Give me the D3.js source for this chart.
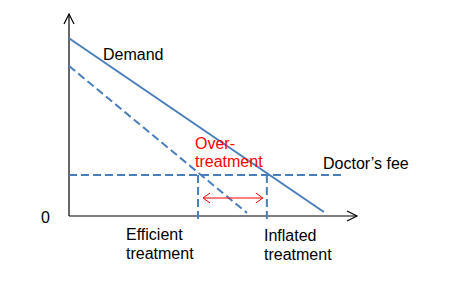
<!DOCTYPE html>
<html lang="en">
<head>
    <meta charset="UTF-8">
    <script src="https://d3js.org/d3.v7.min.js"></script>
    <style>
        body { margin: 0; background: #fff; }
        text {
            font-family: "Liberation Sans", Arial, sans-serif;
            font-size: 16px;
            fill: #000;
        }
        .red { fill: #ff0000; }
    </style>
</head>
<body>
    <svg id="chart"></svg>
    <script>
        // conceptual units, 0..100 on both axes
        const demand = [{ q: 0, p: 88 }, { q: 88.5, p: 2 }];
        const efficientDemand = [{ q: 0, p: 74.3 }, { q: 61.8, p: 1.5 }];
        const doctorsFee = 20.3;
        const efficientQ = 44.8;
        const inflatedQ = 68.7;
        const feeEndQ = 95;

        const width = 463, height = 283;
        const blue = "#4a7ebb";

        const svg = d3.select("#chart")
            .attr("width", width)
            .attr("height", height);

        const x = d3.scaleLinear().domain([0, 100]).range([69, 357]);
        const y = d3.scaleLinear().domain([0, 100]).range([216, 14]);

        const line = d3.line().x(d => x(d.q)).y(d => y(d.p));

        // axes
        svg.append("line")
            .attr("x1", x(0)).attr("y1", y(0))
            .attr("x2", x(0)).attr("y2", y(100))
            .attr("stroke", "#000").attr("stroke-width", 1.2);
        svg.append("line")
            .attr("x1", x(0)).attr("y1", y(0))
            .attr("x2", x(100)).attr("y2", y(0))
            .attr("stroke", "#000").attr("stroke-width", 1.2);
        // open arrow heads
        svg.append("path")
            .attr("d", `M${x(0) - 5},${y(100) + 10} L${x(0)},${y(100)} L${x(0) + 5},${y(100) + 10}`)
            .attr("fill", "none").attr("stroke", "#000").attr("stroke-width", 1.2);
        svg.append("path")
            .attr("d", `M${x(100) - 10},${y(0) - 5} L${x(100)},${y(0)} L${x(100) - 10},${y(0) + 5}`)
            .attr("fill", "none").attr("stroke", "#000").attr("stroke-width", 1.2);

        // doctor's fee
        svg.append("line")
            .attr("x1", x(0)).attr("y1", y(doctorsFee))
            .attr("x2", x(feeEndQ)).attr("y2", y(doctorsFee))
            .attr("stroke", blue).attr("stroke-width", 2)
            .attr("stroke-dasharray", "8,4");

        // verticals
        [efficientQ, inflatedQ].forEach(q => {
            svg.append("line")
                .attr("x1", x(q)).attr("y1", y(doctorsFee))
                .attr("x2", x(q)).attr("y2", y(0) + 3)
                .attr("stroke", blue).attr("stroke-width", 2)
                .attr("stroke-dasharray", "8,4");
        });

        // demand curves
        svg.append("path")
            .attr("d", line(demand))
            .attr("fill", "none").attr("stroke", blue).attr("stroke-width", 2);
        svg.append("path")
            .attr("d", line(efficientDemand))
            .attr("fill", "none").attr("stroke", blue).attr("stroke-width", 2)
            .attr("stroke-dasharray", "8,4");

        // over-treatment arrow
        const ay = 198, ax1 = x(efficientQ) + 5, ax2 = x(inflatedQ) - 4;
        svg.append("line")
            .attr("x1", ax1).attr("y1", ay).attr("x2", ax2).attr("y2", ay)
            .attr("stroke", "#ff0000").attr("stroke-width", 1);
        svg.append("path")
            .attr("d", `M${ax1 + 7},${ay - 5} L${ax1},${ay} L${ax1 + 7},${ay + 5} M${ax2 - 7},${ay - 5} L${ax2},${ay} L${ax2 - 7},${ay + 5}`)
            .attr("fill", "none").attr("stroke", "#ff0000").attr("stroke-width", 1);

        // labels
        svg.append("text").attr("x", 103).attr("y", 60).text("Demand");
        svg.append("text").attr("class", "red").attr("x", 195).attr("y", 149).text("Over-");
        svg.append("text").attr("class", "red").attr("x", 195).attr("y", 167).text("treatment");
        svg.append("text").attr("x", 323).attr("y", 169).text("Doctor\u2019s fee");
        svg.append("text").attr("x", 41).attr("y", 223).text("0");
        svg.append("text").attr("x", 126).attr("y", 240).text("Efficient");
        svg.append("text").attr("x", 126).attr("y", 259).text("treatment");
        svg.append("text").attr("x", 264).attr("y", 241).text("Inflated");
        svg.append("text").attr("x", 264).attr("y", 260).text("treatment");
    </script>
</body>
</html>
